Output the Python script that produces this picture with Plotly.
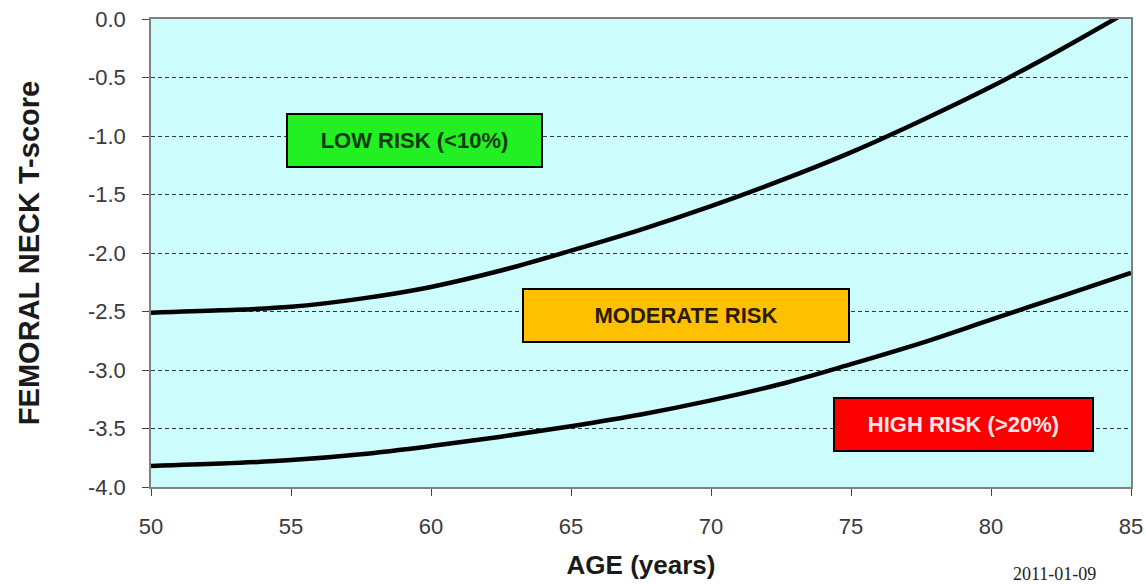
import plotly.graph_objects as go

# Data
ages = [50, 52.5, 55, 57.5, 60, 62.5, 65, 67.5, 70, 72.5, 75, 77.5, 80, 82.5, 85]
upper_threshold = [-2.51, -2.49, -2.46, -2.39, -2.29, -2.15, -1.98, -1.80, -1.60, -1.38, -1.14, -0.87, -0.58, -0.26, 0.08]
lower_threshold = [-3.82, -3.80, -3.77, -3.72, -3.65, -3.57, -3.48, -3.38, -3.26, -3.12, -2.95, -2.77, -2.57, -2.37, -2.17]

x_ticks = [50, 55, 60, 65, 70, 75, 80, 85]
y_ticks = [0.0, -0.5, -1.0, -1.5, -2.0, -2.5, -3.0, -3.5, -4.0]
y_tick_text = ["0.0", "-0.5", "-1.0", "-1.5", "-2.0", "-2.5", "-3.0", "-3.5", "-4.0"]

risk_labels = ["LOW RISK (<10%)", "MODERATE RISK", "HIGH RISK (>20%)"]
risk_age = [59.4, 69.1, 79.0]
risk_t = [-1.04, -2.53, -3.47]
risk_fill = ["#22f022", "#ffc000", "#fa0000"]
risk_text = ["#0f3a0f", "#2a1c04", "#ffe6e6"]
risk_w = [253, 324, 257]

fig = go.Figure()
for ys in (upper_threshold, lower_threshold):
    fig.add_trace(go.Scatter(x=ages, y=ys, mode="lines",
                             line=dict(color="#000000", width=4.5, shape="spline", smoothing=1.0),
                             showlegend=False, hoverinfo="skip"))

for lab, ax_, ay_, fc, tc, w in zip(risk_labels, risk_age, risk_t, risk_fill, risk_text, risk_w):
    fig.add_annotation(x=ax_, y=ay_, xref="x", yref="y", text="<b>" + lab + "</b>",
                       showarrow=False, bgcolor=fc, bordercolor="#000000", borderwidth=2,
                       borderpad=0, width=w, height=51,
                       font=dict(family="Liberation Sans, Arial", size=22, color=tc))

fig.add_annotation(x=0.922, y=-0.186, xref="paper", yref="paper", text="2011-01-09",
                   showarrow=False, xanchor="center", yanchor="middle",
                   font=dict(family="Liberation Serif, Times New Roman", size=18, color="#222222"))

fig.update_layout(
    width=1145, height=586,
    margin=dict(l=151, r=14, t=19, b=99),
    paper_bgcolor="#ffffff",
    plot_bgcolor="#ccfcfc",
    font=dict(family="Liberation Sans, Arial", color="#333333"),
)
fig.update_xaxes(
    range=[50, 85], tickvals=x_ticks, ticktext=[str(v) for v in x_ticks],
    automargin=False,
    showgrid=False, zeroline=False,
    showline=True, linecolor="#808080", linewidth=1.5, mirror=True,
    ticks="outside", ticklen=7, tickcolor="#444444", tickwidth=1,
    ticklabelstandoff=12,
    tickfont=dict(family="Liberation Sans Narrow, Arial Narrow, Liberation Sans", size=22, color="#3a3a3a"),
    title=dict(text="<b>AGE (years)</b>", standoff=18,
               font=dict(family="Liberation Sans Narrow, Arial Narrow, Liberation Sans", size=26, color="#1a1a1a")),
)
fig.update_yaxes(
    range=[-4.0, 0.0], tickvals=y_ticks, ticktext=y_tick_text,
    automargin=False,
    showgrid=True, gridcolor="#2a3a3a", griddash="4px,3px", gridwidth=1,
    zeroline=False,
    showline=True, linecolor="#808080", linewidth=1.5, mirror=True,
    ticks="outside", ticklen=7, tickcolor="#444444", tickwidth=1,
    ticklabelstandoff=12,
    tickfont=dict(family="Liberation Sans, Arial", size=22, color="#3a3a3a"),
    title=dict(text="<b>FEMORAL NECK T-score</b>", standoff=40,
               font=dict(family="Liberation Sans, Arial", size=29, color="#1a1a1a")),
)

fig.write_html("out.html", config={"displayModeBar": False},
               post_script="document.body.style.margin='0';document.body.style.overflow='hidden';")
